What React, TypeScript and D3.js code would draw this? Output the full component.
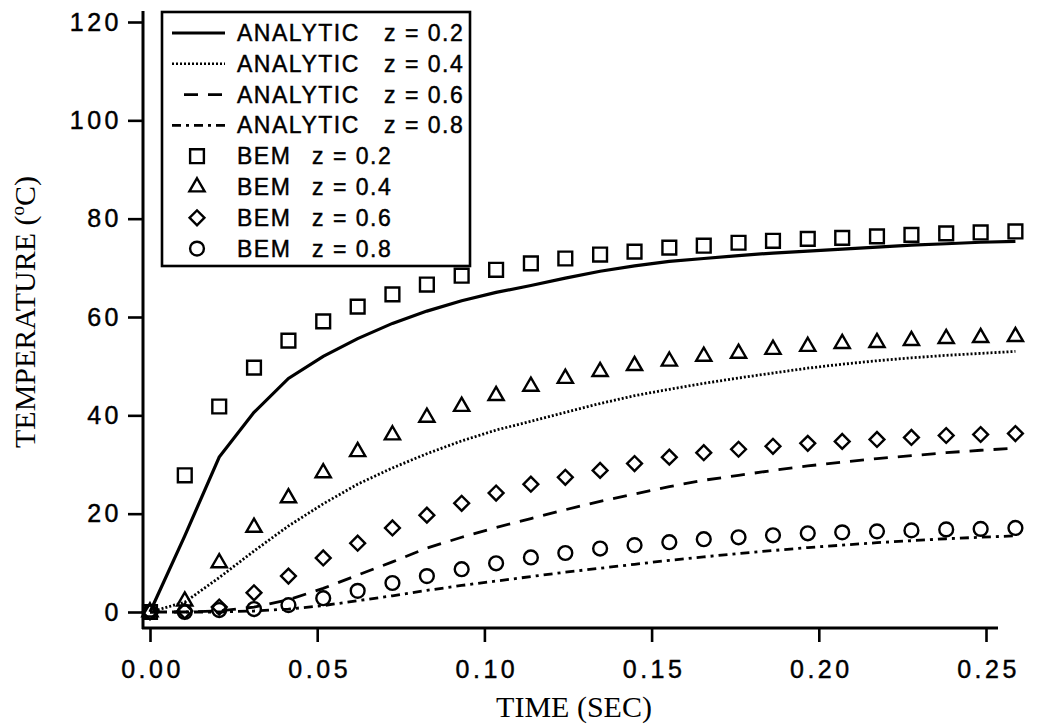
import { useEffect, useRef } from 'react'
import * as d3 from 'd3'

// sample times (markers sit slightly past the 0.25 tick)
const timeSec = [
	0, 0.0104, 0.0207, 0.0311, 0.0414, 0.0518, 0.0621, 0.0725, 0.0828, 0.0932,
	0.1035, 0.1139, 0.1242, 0.1346, 0.1449, 0.1553, 0.1656, 0.176, 0.1863,
	0.1967, 0.207, 0.2174, 0.2277, 0.2381, 0.2484, 0.2588,
]

const analyticZ02 = [
	0, 15.5, 31.5, 40.6, 47.5, 52, 55.6, 58.7, 61.2, 63.3, 65, 66.4, 67.9, 69.3,
	70.4, 71.3, 71.9, 72.5, 73, 73.4, 73.8, 74.2, 74.6, 74.9, 75.2, 75.4,
]
const analyticZ04 = [
	0, 2, 7, 12.4, 17.5, 22, 26, 29.3, 32.2, 34.8, 37, 38.8, 40.6, 42.4, 44, 45.3,
	46.5, 47.6, 48.6, 49.6, 50.4, 51.1, 51.7, 52.2, 52.6, 53,
]
const analyticZ06 = [
	0, 0, 0.2, 1, 2.5, 4.8, 7.5, 10.2, 13, 15.2, 17.2, 19, 20.8, 22.5, 24, 25.5,
	26.8, 27.8, 28.8, 29.7, 30.5, 31.2, 31.8, 32.4, 32.9, 33.3,
]
const analyticZ08 = [
	0, 0, 0, 0.2, 0.6, 1.3, 2.3, 3.3, 4.4, 5.4, 6.3, 7.2, 8.1, 8.9, 9.7, 10.5,
	11.2, 11.9, 12.5, 13.1, 13.6, 14.1, 14.5, 14.9, 15.2, 15.5,
]

const bemZ02 = [
	0, 27.8, 41.8, 49.7, 55.2, 59.1, 62.1, 64.6, 66.6, 68.4, 69.6, 70.9, 71.9,
	72.7, 73.3, 74.1, 74.5, 75.1, 75.5, 75.9, 76.1, 76.4, 76.7, 77, 77.2, 77.4,
]
const bemZ04 = [
	0, 2.2, 10, 17.2, 23.2, 28.3, 32.6, 36, 39.6, 41.8, 44, 45.9, 47.5, 48.9,
	50.1, 51, 52, 52.6, 53.4, 54, 54.6, 54.8, 55.2, 55.6, 55.8, 56,
]
const bemZ06 = [
	0, 0.2, 1, 3.9, 7.3, 11, 14, 17.1, 19.7, 22.1, 24.2, 26, 27.4, 28.8, 30.2,
	31.5, 32.4, 33.1, 33.7, 34.3, 34.7, 35.1, 35.5, 35.9, 36.1, 36.3,
]
const bemZ08 = [
	0, 0, 0.4, 0.6, 1.4, 2.8, 4.3, 5.9, 7.3, 8.7, 9.9, 11.1, 12, 12.9, 13.6, 14.2,
	14.8, 15.2, 15.6, 16, 16.2, 16.4, 16.6, 16.8, 16.9, 17.1,
]

const xTicks = [0, 0.05, 0.1, 0.15, 0.2, 0.25]
const yTicks = [0, 20, 40, 60, 80, 100, 120]
const zLabels = ['z = 0.2', 'z = 0.4', 'z = 0.6', 'z = 0.8']
const analyticDash = ['none', '2,2', '14,10', '9,5,3,5']
const bemShapes = ['square', 'triangle', 'diamond', 'circle']

const SANS = 'Arial, "Liberation Sans", Helvetica, sans-serif'
const SERIF = '"Times New Roman", "Liberation Serif", Times, serif'

const markerPath = (shape: string) => {
	if (shape === 'square') return d3.symbol(d3.symbolSquare, 190)()
	if (shape === 'triangle') return d3.symbol(d3.symbolTriangle, 100)()
	if (shape === 'diamond') return d3.symbol(d3.symbolSquare, 110)()
	return d3.symbol(d3.symbolCircle, 150)()
}

// scanned print looks a bit heavy, so give text a thin outline
const inkText = (sel: any, size: number, spacing: number) =>
	sel
		.attr('fill', '#000')
		.attr('stroke', '#000')
		.attr('stroke-width', 0.45)
		.style('font-family', SANS)
		.style('font-size', size + 'px')
		.style('letter-spacing', spacing + 'px')

const App = () => {
	const ref = useRef<SVGSVGElement>(null)

	useEffect(() => {
		const svg = d3.select(ref.current)
		svg.selectAll('*').remove()

		const x = d3.scaleLinear().domain([0, 0.25]).range([150, 986])
		const y = d3.scaleLinear().domain([0, 120]).range([612, 22])

		svg.append('rect').attr('width', 1044).attr('height', 727).attr('fill', '#fff')

		// y axis
		const yAxis = svg
			.append('g')
			.attr('transform', 'translate(143,0)')
			.call(
				d3
					.axisLeft(y)
					.tickValues(yTicks)
					.tickSize(15)
					.tickPadding(6)
					.tickFormat(d3.format('d'))
			)
		yAxis.select('.domain').remove()
		yAxis.selectAll('line').attr('stroke', '#000').attr('stroke-width', 2.6)
		inkText(yAxis.selectAll('text'), 25, 3.5)
		svg
			.append('line')
			.attr('x1', 143)
			.attr('x2', 143)
			.attr('y1', 11)
			.attr('y2', 629)
			.attr('stroke', '#000')
			.attr('stroke-width', 3)

		// x axis
		const xAxis = svg
			.append('g')
			.attr('transform', 'translate(0,628)')
			.call(
				d3
					.axisBottom(x)
					.tickValues(xTicks)
					.tickSize(14)
					.tickPadding(18)
					.tickFormat(d3.format('.2f'))
			)
		xAxis.select('.domain').remove()
		xAxis.selectAll('line').attr('stroke', '#000').attr('stroke-width', 2.6)
		inkText(xAxis.selectAll('text'), 25, 3.5).attr('dx', 2)
		svg
			.append('line')
			.attr('x1', 142)
			.attr('x2', 998)
			.attr('y1', 628)
			.attr('y2', 628)
			.attr('stroke', '#000')
			.attr('stroke-width', 3)

		// axis titles
		svg
			.append('text')
			.attr('x', 574)
			.attr('y', 717)
			.attr('text-anchor', 'middle')
			.style('font-family', SERIF)
			.style('font-size', '30px')
			.text('TIME (SEC)')

		const yTitle = svg
			.append('text')
			.attr('transform', 'translate(35,312) rotate(-90)')
			.attr('text-anchor', 'middle')
			.style('font-family', SERIF)
			.style('font-size', '30px')
		yTitle.append('tspan').text('TEMPERATURE (')
		yTitle.append('tspan').attr('dy', -11).style('font-size', '19px').text('o')
		yTitle.append('tspan').attr('dy', 11).text('C)')

		// analytic curves
		const analytic = [analyticZ02, analyticZ04, analyticZ06, analyticZ08]
		const line = d3
			.line<number>()
			.x((_d, i) => x(timeSec[i]))
			.y((d) => y(d))
		analytic.forEach((series, k) => {
			svg
				.append('path')
				.datum(series)
				.attr('d', line)
				.attr('fill', 'none')
				.attr('stroke', '#000')
				.attr('stroke-width', k === 0 ? 3.2 : 2.8)
				.attr('stroke-dasharray', analyticDash[k])
		})

		// BEM markers
		const bem = [bemZ02, bemZ04, bemZ06, bemZ08]
		bem.forEach((series, k) => {
			svg
				.append('g')
				.selectAll('path')
				.data(series)
				.enter()
				.append('path')
				.attr('d', markerPath(bemShapes[k]))
				.attr(
					'transform',
					(d, i) =>
						`translate(${x(timeSec[i])},${y(d)})` +
						(bemShapes[k] === 'diamond' ? ' rotate(45)' : '')
				)
				.attr('fill', 'none')
				.attr('stroke', '#000')
				.attr('stroke-width', 2.4)
		})

		// legend
		const legend = svg.append('g')
		legend
			.append('rect')
			.attr('x', 162)
			.attr('y', 12)
			.attr('width', 308)
			.attr('height', 254)
			.attr('fill', '#fff')
			.attr('stroke', '#000')
			.attr('stroke-width', 2.6)

		const rowY = (r: number) => 33 + r * 30.8
		zLabels.forEach((z, k) => {
			const yy = rowY(k)
			legend
				.append('line')
				.attr('x1', k === 2 ? 184 : 172)
				.attr('x2', 225)
				.attr('y1', yy)
				.attr('y2', yy)
				.attr('stroke', '#000')
				.attr('stroke-width', k === 0 ? 3.2 : 2.6)
				.attr('stroke-dasharray', analyticDash[k])
			inkText(legend.append('text'), 23, 1.5)
				.attr('x', 237)
				.attr('y', yy + 8)
				.text('ANALYTIC')
			inkText(legend.append('text'), 23, 1.5)
				.attr('x', 384)
				.attr('y', yy + 8)
				.text(z)
		})
		zLabels.forEach((z, k) => {
			const yy = rowY(k + 4)
			legend
				.append('path')
				.attr('d', markerPath(bemShapes[k]))
				.attr(
					'transform',
					`translate(197,${yy})` + (bemShapes[k] === 'diamond' ? ' rotate(45)' : '')
				)
				.attr('fill', 'none')
				.attr('stroke', '#000')
				.attr('stroke-width', 2.4)
			inkText(legend.append('text'), 23, 1.5)
				.attr('x', 237)
				.attr('y', yy + 8)
				.text('BEM')
			inkText(legend.append('text'), 23, 1.5)
				.attr('x', 312)
				.attr('y', yy + 8)
				.text(z)
		})
	}, [])

	return (
		<svg
			ref={ref}
			width={1044}
			height={727}
			style={{ position: 'absolute', left: 0, top: 0, display: 'block' }}
		/>
	)
}

export default App
